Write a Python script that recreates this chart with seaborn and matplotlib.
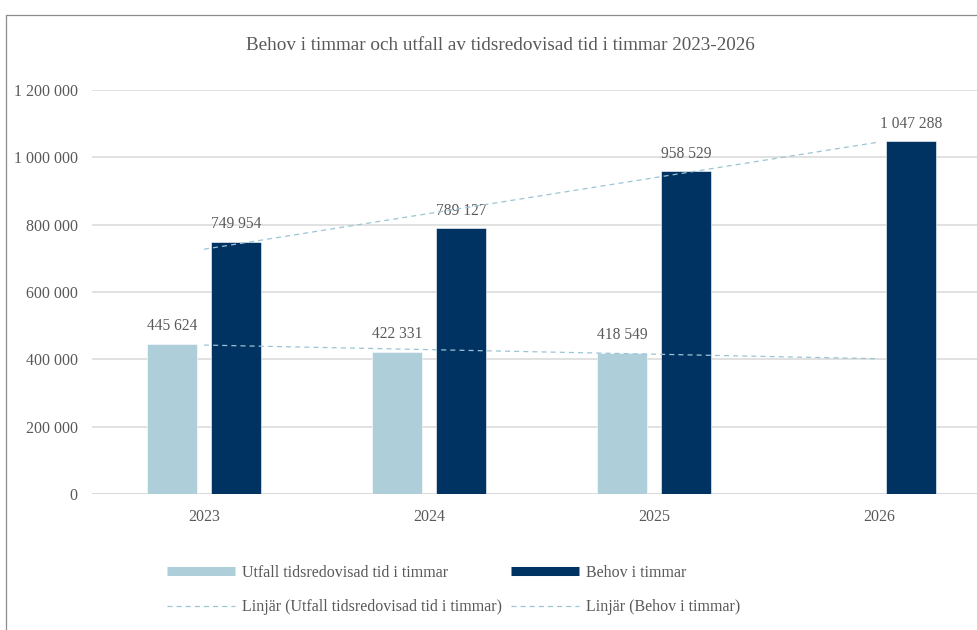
import numpy as np
import pandas as pd
import matplotlib
matplotlib.use("Agg")
import matplotlib.pyplot as plt
from matplotlib.lines import Line2D
import seaborn as sns

# Data
years = ["2023", "2024", "2025", "2026"]
utfall = [445624, 422331, 418549, np.nan]
behov = [749954, 789127, 958529, 1047288]
series_names = ["Utfall tidsredovisad tid i timmar", "Behov i timmar"]
trend_names = ["Linjär (Utfall tidsredovisad tid i timmar)", "Linjär (Behov i timmar)"]
title = "Behov i timmar och utfall av tidsredovisad tid i timmar 2023-2026"
yticks = [0, 200000, 400000, 600000, 800000, 1000000, 1200000]

LIGHT = "#AECEDA"
DARK = "#003362"
TREND = "#9CC4D6"
GRID = "#D9D9D9"
TEXT = "#595959"

sns.set_theme(style="white")
plt.rcParams["font.family"] = ["Liberation Serif", "DejaVu Serif"]
plt.rcParams["text.color"] = TEXT


def spaced(v):
    return f"{v:,.0f}".replace(",", " ")


df = pd.DataFrame({
    "År": years * 2,
    "Timmar": utfall + behov,
    "Serie": [series_names[0]] * 4 + [series_names[1]] * 4,
})

W, H = 977, 630
fig = plt.figure(figsize=(W / 100, H / 100), dpi=100)

# Outer chart frame
frame_kw = dict(color="#8C8C8C", lw=0.9, transform=fig.transFigure)
fig.add_artist(Line2D([5.5 / W, 5.5 / W], [1 - 14.5 / H, -0.1], **frame_kw))
fig.add_artist(Line2D([5.5 / W, 1.1], [1 - 14.5 / H, 1 - 14.5 / H], **frame_kw))

ax = fig.add_axes([91.5 / W, 136 / H, 900 / W, 404 / H])

sns.barplot(
    data=df, x="År", y="Timmar", hue="Serie", hue_order=series_names,
    palette=[LIGHT, DARK], saturation=1, width=0.569, gap=0.218, errorbar=None,
    edgecolor="white", linewidth=0.4, legend=False, ax=ax, zorder=3,
)

# Linear trendlines at category centres
xs = np.arange(len(years))
u = np.array(utfall, dtype=float)
mask = ~np.isnan(u)
pu = np.polyfit(xs[mask], u[mask], 1)
pb = np.polyfit(xs, np.array(behov, dtype=float), 1)
dash = (0, (4, 3.3))
ax.plot(xs, np.polyval(pu, xs), color=TREND, lw=0.9, ls=dash, zorder=4)
ax.plot(xs, np.polyval(pb, xs), color=TREND, lw=0.9, ls=dash, zorder=4)

for cont in ax.containers:
    ax.bar_label(cont, fmt=lambda v: "" if np.isnan(v) else spaced(v),
                 padding=7, fontsize=11.2, color=TEXT)

ax.set_xlim(-0.5, 3.5)
ax.set_ylim(0, 1200000)
ax.set_yticks(yticks)
ax.set_yticklabels([spaced(v) for v in yticks])
ax.yaxis.grid(True, color=GRID, lw=1.1, zorder=0)
ax.set_axisbelow(True)
for s in ["left", "right", "top", "bottom"]:
    ax.spines[s].set_visible(False)
ax.axhline(0, color=GRID, lw=1.1, zorder=2)
ax.tick_params(axis="both", length=0, labelsize=11.5, labelcolor=TEXT)
ax.tick_params(axis="x", pad=11)
ax.tick_params(axis="y", pad=10)
ax.set_xlabel("")
ax.set_ylabel("")

fig.text(500 / W, 1 - 45 / H, title, ha="center", va="center", fontsize=13.75, color=TEXT)

handles = [
    Line2D([], [], color=LIGHT, lw=6.5, solid_capstyle="butt"),
    Line2D([], [], color=TREND, lw=0.9, ls=dash),
    Line2D([], [], color=DARK, lw=6.5, solid_capstyle="butt"),
    Line2D([], [], color=TREND, lw=0.9, ls=dash),
]
labels = [series_names[0], trend_names[0], series_names[1], trend_names[1]]
fig.legend(handles, labels, ncol=2, loc="upper left",
           bbox_to_anchor=(167 / W, 1 - 565 / H), frameon=False,
           borderpad=0, borderaxespad=0, fontsize=11.5, handlelength=4.25,
           handletextpad=0.45, columnspacing=0.55, labelspacing=1.14,
           labelcolor=TEXT)

fig.savefig("out.png", dpi=100)
